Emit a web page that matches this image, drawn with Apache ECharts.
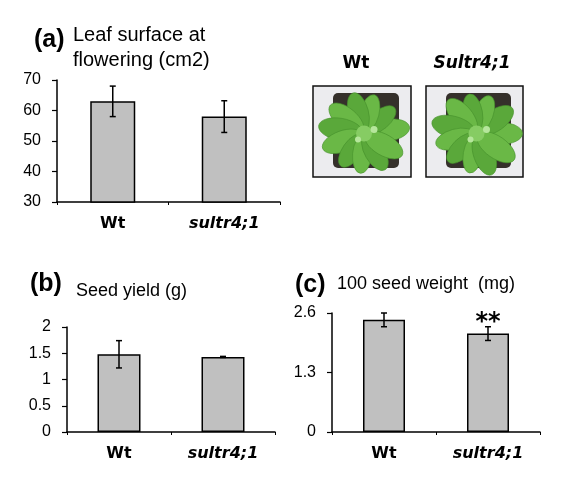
<!DOCTYPE html>
<html>
<head>
<meta charset="UTF-8">
<title>Sultr4;1 phenotype</title>
<script src="https://cdn.jsdelivr.net/npm/echarts@6/dist/echarts.min.js"></script>
<style>
html, body { margin: 0; padding: 0; background: #fff; }
#main { width: 561px; height: 487px; }
</style>
</head>
<body>
<div id="main"></div>
<script>
// data
var genotypes = ['Wt', 'sultr4;1'];
var leafMean = [63, 58];
var leafErr = [5, 5.2];
var yieldMean = [1.48, 1.43];
var yieldErr = [0.26, 0.01];
var weightMean = [2.45, 2.15];
var weightErr = [0.15, 0.15];
var weightSig = ['', '**'];
var leafTicks = { min: 30, max: 70, interval: 10 };
var yieldTicks = { min: 0, max: 2, interval: 0.5 };
var weightTicks = { min: 0, max: 2.6, interval: 1.3 };

var FONT = '"Liberation Sans", Arial, sans-serif';
var WIDE = '"DejaVu Sans", Verdana, sans-serif';

function catLabel() {
    return {
        margin: 14,
        formatter: function (v) { return v === 'Wt' ? '{n|Wt}' : '{i|' + v + '}'; },
        rich: {
            n: { fontFamily: WIDE, fontSize: 16, fontWeight: 'bold', color: '#000' },
            i: { fontFamily: WIDE, fontSize: 16, fontWeight: 'bold', fontStyle: 'italic', color: '#000' }
        }
    };
}

function xAxisFor(idx) {
    return {
        type: 'category', gridIndex: idx, data: genotypes,
        axisLine: { lineStyle: { color: '#000', width: 1.5 } },
        axisTick: { show: true, length: 3, lineStyle: { color: '#000' } },
        axisLabel: catLabel()
    };
}

function yAxisFor(idx, t) {
    return {
        type: 'value', gridIndex: idx, min: t.min, max: t.max, interval: t.interval,
        axisLine: { show: true, lineStyle: { color: '#000', width: 1.5 } },
        axisTick: { show: true, length: 5, lineStyle: { color: '#000', width: 1.2 } },
        splitLine: { show: false },
        axisLabel: { margin: 16, fontFamily: FONT, fontSize: 16, color: '#000' }
    };
}

function barSeries(idx, vals, w) {
    return {
        type: 'bar', xAxisIndex: idx, yAxisIndex: idx, data: vals, barWidth: w,
        itemStyle: { color: '#c0c0c0', borderColor: '#000', borderWidth: 1.5 },
        silent: true
    };
}

function errSeries(idx, mean, err, sig) {
    var data = mean.map(function (m, i) { return [i, m - err[i], m + err[i], sig ? sig[i] : '']; });
    return {
        type: 'custom', xAxisIndex: idx, yAxisIndex: idx, data: data, silent: true, z: 5,
        renderItem: function (params, api) {
            var x = api.value(0);
            var lo = api.coord([x, api.value(1)]);
            var hi = api.coord([x, api.value(2)]);
            var cap = 3;
            var st = { stroke: '#000', lineWidth: 1.5 };
            var kids = [
                { type: 'line', shape: { x1: hi[0], y1: hi[1], x2: lo[0], y2: lo[1] }, style: st },
                { type: 'line', shape: { x1: hi[0] - cap, y1: hi[1], x2: hi[0] + cap, y2: hi[1] }, style: st },
                { type: 'line', shape: { x1: lo[0] - cap, y1: lo[1], x2: lo[0] + cap, y2: lo[1] }, style: st }
            ];
            var s = api.value(3);
            if (s) {
                kids.push({ type: 'text', x: hi[0], y: hi[1] + 8,
                    style: { text: s, fontFamily: WIDE, fontSize: 24, fontWeight: 'bold', fill: '#000',
                        align: 'center', verticalAlign: 'bottom' } });
            }
            return { type: 'group', children: kids };
        }
    };
}

// decorative rosette standing in for the photographs
function plant(x0, y0, w, h, leaves, lens) {
    var cx = x0 + w / 2 + 2, cy = y0 + h / 2 + 2;
    var kids = [
        { type: 'rect', shape: { x: x0, y: y0, width: w, height: h }, style: { fill: '#ececef', stroke: '#111', lineWidth: 1.5 } },
        { type: 'rect', shape: { x: x0 + 20, y: y0 + 7, width: w - 32, height: h - 16, r: 5 }, style: { fill: '#35302b' } }
    ];
    leaves.forEach(function (a, k) {
        var rad = a * Math.PI / 180;
        var len = lens[k];
        kids.push({
            type: 'circle', x: cx + Math.cos(rad) * len * 0.52, y: cy - Math.sin(rad) * len * 0.52,
            rotation: rad, scaleY: 0.5,
            shape: { cx: 0, cy: 0, r: len * 0.48 },
            style: { fill: k % 2 ? '#5aa83a' : '#6ab846', stroke: '#46912c', lineWidth: 0.8 }
        });
    });
    kids.push({ type: 'circle', shape: { cx: cx, cy: cy, r: 8 }, style: { fill: '#86cc63' } });
    kids.push({ type: 'circle', shape: { cx: cx + 10, cy: cy - 4, r: 3.5 }, style: { fill: '#b6e69c' } });
    kids.push({ type: 'circle', shape: { cx: cx - 6, cy: cy + 6, r: 3 }, style: { fill: '#b6e69c' } });
    return { type: 'group', children: kids };
}

var chart = echarts.init(document.getElementById('main'), null, { renderer: 'canvas' });

var option = {
    backgroundColor: '#fff',
    animation: false,
    grid: [
        { left: 57, top: 80, width: 223, height: 122 },
        { left: 67, top: 327, width: 208, height: 105 },
        { left: 332, top: 313, width: 208, height: 119 }
    ],
    xAxis: [xAxisFor(0), xAxisFor(1), xAxisFor(2)],
    yAxis: [yAxisFor(0, leafTicks), yAxisFor(1, yieldTicks), yAxisFor(2, weightTicks)],
    series: [
        barSeries(0, leafMean, 45), errSeries(0, leafMean, leafErr),
        barSeries(1, yieldMean, 43), errSeries(1, yieldMean, yieldErr),
        barSeries(2, weightMean, 42), errSeries(2, weightMean, weightErr, weightSig)
    ],
    graphic: [
        { type: 'text', x: 34, y: 40, style: { text: '(a)', fontFamily: FONT, fontSize: 25, fontWeight: 'bold', fill: '#000', verticalAlign: 'middle' } },
        { type: 'text', x: 73, y: 35, style: { text: 'Leaf surface at', fontFamily: FONT, fontSize: 20, fill: '#000', verticalAlign: 'middle' } },
        { type: 'text', x: 73, y: 60, style: { text: 'flowering (cm2)', fontFamily: FONT, fontSize: 20, fill: '#000', verticalAlign: 'middle' } },
        { type: 'text', x: 30, y: 284, style: { text: '(b)', fontFamily: FONT, fontSize: 25, fontWeight: 'bold', fill: '#000', verticalAlign: 'middle' } },
        { type: 'text', x: 76, y: 291, style: { text: 'Seed yield (g)', fontFamily: FONT, fontSize: 18, fill: '#000', verticalAlign: 'middle' } },
        { type: 'text', x: 295, y: 285, style: { text: '(c)', fontFamily: FONT, fontSize: 25, fontWeight: 'bold', fill: '#000', verticalAlign: 'middle' } },
        { type: 'text', x: 337, y: 284, style: { text: '100 seed weight  (mg)', fontFamily: FONT, fontSize: 18, fill: '#000', verticalAlign: 'middle' } },
        { type: 'text', x: 356, y: 64, style: { text: 'Wt', fontFamily: WIDE, fontSize: 17, fontWeight: 'bold', fill: '#000', align: 'center', verticalAlign: 'middle' } },
        { type: 'text', x: 472, y: 64, style: { text: 'Sultr4;1', fontFamily: WIDE, fontSize: 17, fontWeight: 'bold', fontStyle: 'italic', fill: '#000', align: 'center', verticalAlign: 'middle' } },
        plant(313, 86, 98, 91, [8, 40, 75, 105, 140, 170, 200, 235, 265, 300, 330],
            [46, 40, 40, 42, 44, 46, 44, 40, 40, 42, 44]),
        plant(426, 86, 97, 91, [0, 35, 70, 100, 130, 165, 195, 225, 260, 290, 325],
            [46, 44, 40, 40, 44, 46, 42, 40, 40, 44, 46])
    ]
};
chart.setOption(option);
</script>
</body>
</html>
